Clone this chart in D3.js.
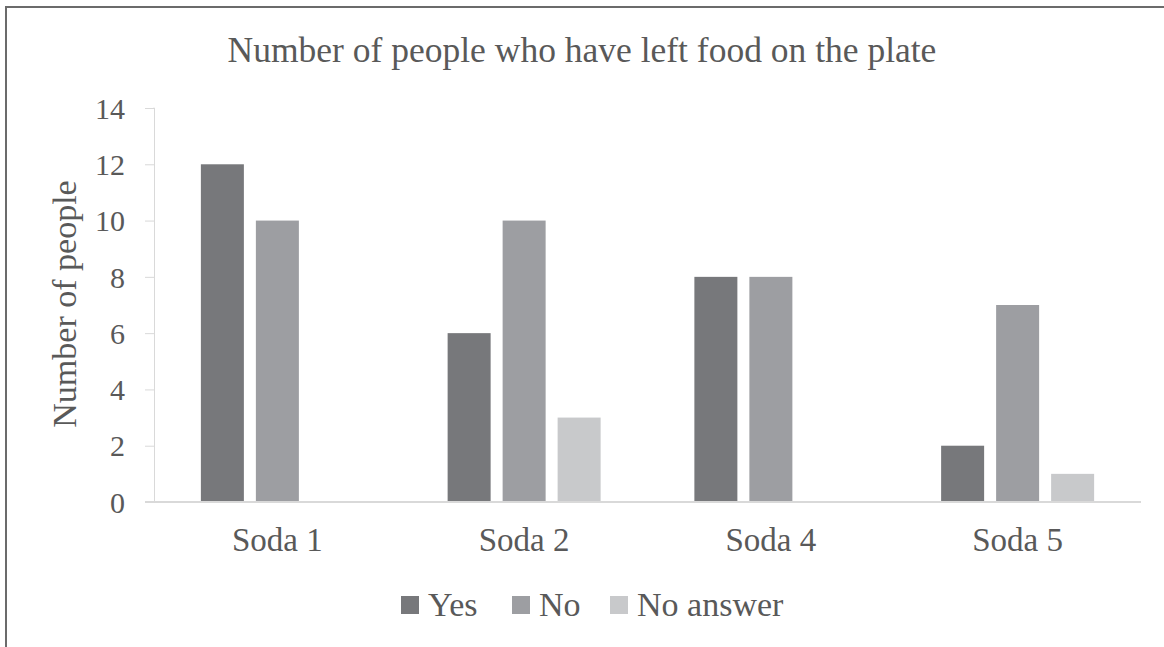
<!DOCTYPE html>
<html><head><meta charset="utf-8">
<script src="https://cdn.jsdelivr.net/npm/d3@7"></script>
<style>html,body{margin:0;padding:0;background:#fff;}svg{display:block;}</style>
</head><body>
<svg id="c" width="1164" height="647"></svg>
<script>
const categories = ["Soda 1", "Soda 2", "Soda 4", "Soda 5"];
const seriesNames = ["Yes", "No", "No answer"];
const yesValues = [12, 6, 8, 2];
const noValues = [10, 10, 8, 7];
const noAnswerValues = [0, 3, 0, 1];
const yTicks = [0, 2, 4, 6, 8, 10, 12, 14];
const colors = ["#77787b", "#9d9ea2", "#c8c9cb"];

const series = [yesValues, noValues, noAnswerValues];
const svg = d3.select("#c");
const font = "'Liberation Serif','Times New Roman',serif";
const textColor = "#595959";

// outer frame (top and left edges visible)
svg.append("line").attr("x1", 5).attr("x2", 1164).attr("y1", 7).attr("y2", 7)
  .attr("stroke", "#6b6b6b").attr("stroke-width", 2);
svg.append("line").attr("x1", 6).attr("x2", 6).attr("y1", 6).attr("y2", 647)
  .attr("stroke", "#6b6b6b").attr("stroke-width", 2);

const pLeft = 154, pRight = 1141, pTop = 108, pBottom = 502;
const x = d3.scaleBand().domain(categories).range([pLeft, pRight]);
const y = d3.scaleLinear().domain([0, 14]).range([pBottom, pTop]);
const barW = 43, barStep = 55;

// y axis
const yAxis = d3.axisLeft(y).tickValues(yTicks).tickSize(9).tickPadding(20).tickFormat(d3.format("d"));
const gy = svg.append("g").attr("transform", `translate(${pLeft},0)`).call(yAxis);
gy.select(".domain").attr("stroke", "#d9d9d9").attr("d", `M-0.5,${pTop}H0.5V${pBottom}`);
gy.selectAll(".tick line").attr("stroke", "#d9d9d9");
gy.selectAll(".tick text").attr("fill", textColor).style("font-family", font).style("font-size", "30px")
  .attr("dy", "0.34em");

// bars
categories.forEach((c, i) => {
  series.forEach((vals, s) => {
    const v = vals[i];
    if (!v) return;
    const cx = x(c) + x.bandwidth() / 2 + (s - 1) * barStep;
    svg.append("rect")
      .attr("x", cx - barW / 2).attr("width", barW)
      .attr("y", y(v)).attr("height", y(0) - y(v))
      .attr("fill", colors[s]);
  });
});

// x axis
const xAxis = d3.axisBottom(x).tickSize(0).tickPadding(30);
const gx = svg.append("g").attr("transform", `translate(0,${pBottom})`).call(xAxis);
gx.select(".domain").attr("stroke", "#d9d9d9").attr("stroke-width", 2).attr("d", `M145,0H${pRight}`);
gx.selectAll(".tick text").attr("fill", textColor).style("font-family", font).style("font-size", "33px")
  .attr("dy", null).attr("y", 49);

// title
svg.append("text").attr("x", 582).attr("y", 62).attr("text-anchor", "middle")
  .attr("fill", textColor).style("font-family", font).style("font-size", "35.5px")
  .text("Number of people who have left food on the plate");

// y label
svg.append("text").attr("transform", "translate(76,304) rotate(-90)").attr("text-anchor", "middle")
  .attr("fill", textColor).style("font-family", font).style("font-size", "34px")
  .text("Number of people");

// legend
const legendX = [401, 512, 610];
const lg = svg.append("g");
seriesNames.forEach((n, i) => {
  lg.append("rect").attr("x", legendX[i]).attr("y", 596).attr("width", 18).attr("height", 18).attr("fill", colors[i]);
  lg.append("text").attr("x", legendX[i] + 27).attr("y", 616).attr("fill", textColor)
    .style("font-family", font).style("font-size", "34px").text(n);
});
</script>
</body></html>
